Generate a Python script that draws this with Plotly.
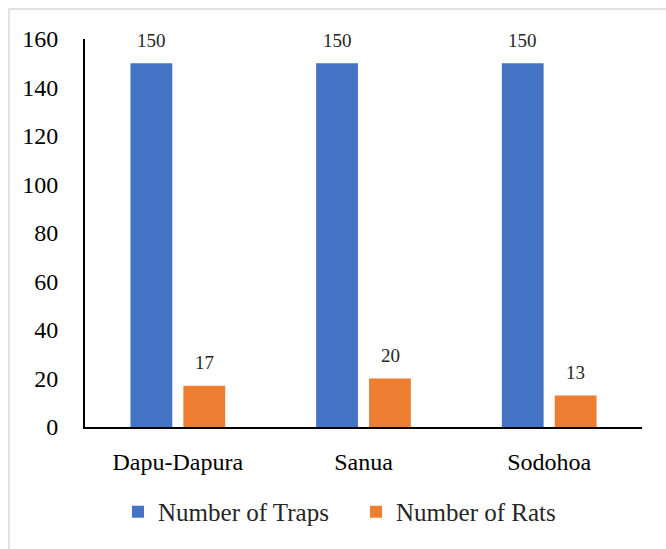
import plotly.graph_objects as go

categories = ["Dapu-Dapura", "Sanua", "Sodohoa"]
traps = [150, 150, 150]
rats = [17, 20, 13]
series_names = ["Number of Traps", "Number of Rats"]
colors = ["#4472C4", "#ED7D31"]
y_ticks = [0, 20, 40, 60, 80, 100, 120, 140, 160]

FONT = "Liberation Serif"

fig = go.Figure()
for name, vals, col in zip(series_names, [traps, rats], colors):
    fig.add_trace(go.Bar(x=categories, y=vals, name=name, marker_color=col,
                         marker_line_width=0))

ann = []
for vals, shift in [(traps, -26.5), (rats, 26.5)]:
    for c, v in zip(categories, vals):
        ann.append(dict(x=c, y=v, xref="x", yref="y", text=str(v), showarrow=False,
                        xshift=shift, yshift=23, yanchor="middle",
                        font=dict(family=FONT, size=19, color="#262626")))

L, R, T, B = 85, 24, 39, 122
W, H = 666, 549
pw, ph = W - L - R, H - T - B
x0 = (9 - L) / pw
y1 = 1 + (T - 9) / ph
fig.update_layout(
    width=W, height=H,
    margin=dict(l=L, r=R, t=T, b=B, pad=0),
    plot_bgcolor="white", paper_bgcolor="white",
    barmode="group", bargap=0.43, bargroupgap=0.21,
    font=dict(family=FONT, size=24, color="#000000"),
    showlegend=True,
    legend=dict(orientation="h", x=0.4866, xanchor="center", y=-0.219, yanchor="middle",
                font=dict(family=FONT, size=25, color="#262626"),
                itemwidth=30, traceorder="normal", entrywidth=193, entrywidthmode="pixels"),
    annotations=ann,
    shapes=[dict(type="rect", xref="paper", yref="paper", x0=x0, y0=-1, x1=2, y1=y1,
                 line=dict(color="#D9D9D9", width=1.5), layer="below")],
    xaxis=dict(showline=True, linecolor="#000000", linewidth=2, showgrid=False,
               ticks="outside", ticklen=12, tickcolor="rgba(0,0,0,0)",
               tickfont=dict(family=FONT, size=24, color="#000000")),
    yaxis=dict(range=[0, 160], tickvals=y_ticks, showline=True, linecolor="#000000",
               linewidth=2, showgrid=False, zeroline=False,
               ticks="outside", ticklen=20, tickcolor="rgba(0,0,0,0)",
               tickfont=dict(family=FONT, size=24, color="#000000")),
)

fig.write_html("out.html")
